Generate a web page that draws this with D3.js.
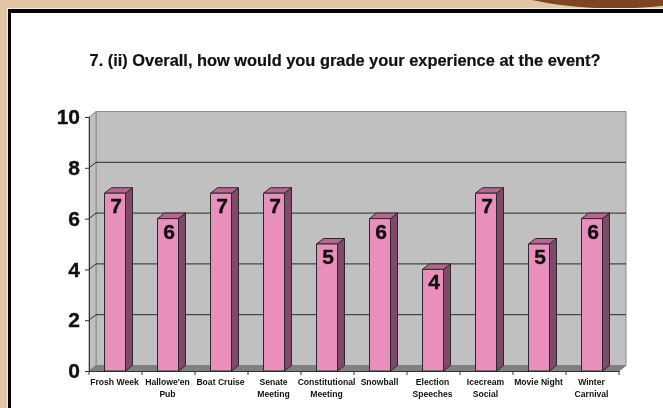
<!DOCTYPE html>
<html>
<head>
<meta charset="utf-8">
<script src="https://cdn.jsdelivr.net/npm/d3@7"></script>
<style>
  html, body { margin: 0; padding: 0; background: #e3c6a8; overflow: hidden; }
  svg { display: block; font-family: "Liberation Sans", Arial, sans-serif; filter: blur(0.35px); }
</style>
</head>
<body>
<div id="svg-container"></div>
<script>
const categories = ["Frosh Week", "Hallowe'en Pub", "Boat Cruise", "Senate Meeting", "Constitutional Meeting", "Snowball", "Election Speeches", "Icecream Social", "Movie Night", "Winter Carnival"];
const values = [7, 6, 7, 7, 5, 6, 4, 7, 5, 6];
const yTicks = [0, 2, 4, 6, 8, 10];
const titleText = "7. (ii) Overall, how would you grade your experience at the event?";

const width = 663;
const height = 408;
const depthX = 7;
const depthY = 5.5;

const svg = d3.select("#svg-container").append("svg").attr("width", width).attr("height", height);

// slide background
svg.append("rect").attr("width", width).attr("height", height).attr("fill", "#e3c6a8");
svg.append("ellipse").attr("cx", 615).attr("cy", -40).attr("rx", 147).attr("ry", 48.5).attr("fill", "#7f4423");
svg.append("rect").attr("x", 7).attr("y", 8).attr("width", width).attr("height", height).attr("fill", "#f6eadc");
svg.append("rect").attr("x", 8).attr("y", 9).attr("width", width).attr("height", height).attr("fill", "#000");
svg.append("rect").attr("x", 11).attr("y", 13).attr("width", width).attr("height", height).attr("fill", "#fff");

svg.append("text")
  .attr("x", 345)
  .attr("y", 66)
  .attr("text-anchor", "middle")
  .attr("font-size", 16.4)
  .attr("font-weight", "bold")
  .attr("fill", "#111")
  .attr("stroke", "#111")
  .attr("stroke-width", 0.2)
  .text(titleText);

const xScale = d3.scaleBand().domain(categories).range([89, 619]);
const yScale = d3.scaleLinear().domain([0, 10]).range([371, 117]);

const x0 = xScale.range()[0];
const x1 = xScale.range()[1];
const y0 = yScale(0);
const yTop = yScale(10);

// walls and floor
const poly = (pts, fill, stroke) =>
  svg.append("polygon")
    .attr("points", pts.map((p) => p.join(",")).join(" "))
    .attr("fill", fill)
    .attr("stroke", stroke)
    .attr("stroke-width", 1);

poly([[x0 + depthX, yTop - depthY], [x1 + depthX, yTop - depthY], [x1 + depthX, y0 - depthY], [x0 + depthX, y0 - depthY]], "#c0c0c0", "#8c8c8c");
poly([[x0, yTop], [x0 + depthX, yTop - depthY], [x0 + depthX, y0 - depthY], [x0, y0]], "#c0c0c0", "#8c8c8c");
poly([[x0, y0], [x0 + depthX, y0 - depthY], [x1 + depthX, y0 - depthY], [x1, y0]], "#808080", "#808080");

// gridlines along the back and side walls
yTicks.filter((d) => d > 0 && d < 10).forEach((d) => {
  svg.append("path")
    .attr("fill", "none")
    .attr("stroke", "#2a2a2a")
    .attr("stroke-width", 1)
    .attr("d", `M${x0},${yScale(d)}L${x0 + depthX},${yScale(d) - depthY}H${x1 + depthX}`);
});

// axes
const yAxis = d3.axisLeft(yScale).tickValues(yTicks).tickSize(4).tickPadding(5);
const xAxis = d3.axisBottom(xScale).tickSize(0).tickFormat("");

const yG = svg.append("g").attr("transform", `translate(${x0},0)`).call(yAxis);
yG.select(".domain").attr("stroke", "#333");
yG.selectAll(".tick line").attr("stroke", "#333");
yG.selectAll("text")
  .attr("font-family", "\"Liberation Sans\", Arial, sans-serif")
  .attr("font-size", 21)
  .attr("font-weight", "bold")
  .attr("fill", "#111")
  .attr("stroke", "#111")
  .attr("stroke-width", 0.35);

const xG = svg.append("g").attr("transform", `translate(0,${y0})`).call(xAxis);
xG.select(".domain").attr("stroke", "#333");

// category boundary ticks
svg.append("g")
  .selectAll("line")
  .data(categories.concat(["end"]))
  .join("line")
  .attr("x1", (d, i) => x0 + i * xScale.step())
  .attr("x2", (d, i) => x0 + i * xScale.step())
  .attr("y1", y0)
  .attr("y2", y0 + 4)
  .attr("stroke", "#333");

// category labels, wrapped on the first space unless the name fits
const singleLine = new Set(["Frosh Week", "Boat Cruise", "Movie Night"]);
const labelG = svg.append("g")
  .selectAll("text")
  .data(categories)
  .join("text")
  .attr("text-anchor", "middle")
  .attr("font-size", 8.6)
  .attr("font-weight", "bold")
  .attr("fill", "#111")
  .attr("transform", (d) => `translate(${xScale(d) + xScale.bandwidth() / 2 - 1},385)`);

labelG.each(function (d) {
  const lines = singleLine.has(d) ? [d] : d.split(" ");
  d3.select(this)
    .selectAll("tspan")
    .data(lines)
    .join("tspan")
    .attr("x", 0)
    .attr("y", (l, i) => i * 12)
    .text((l) => l);
});

// 3d bars
const barW = 21;
const barX = (d) => xScale(d) + (xScale.bandwidth() - barW) / 2 - 0.5;

const bars = svg.append("g")
  .selectAll("g")
  .data(categories.map((c, i) => ({ c: c, v: values[i] })))
  .join("g")
  .attr("stroke", "#2a2a2a")
  .attr("stroke-width", 1)
  .attr("stroke-linejoin", "round");

bars.append("path")
  .attr("fill", "#7f4a69")
  .attr("d", (d) => {
    const l = barX(d.c) + barW;
    return `M${l},${y0}V${yScale(d.v)}l${depthX},${-depthY}V${y0 - depthY}Z`;
  });

bars.append("path")
  .attr("fill", "#b3688f")
  .attr("d", (d) => {
    const l = barX(d.c);
    return `M${l},${yScale(d.v)}l${depthX},${-depthY}h${barW}l${-depthX},${depthY}Z`;
  });

bars.append("rect")
  .attr("x", (d) => barX(d.c))
  .attr("y", (d) => yScale(d.v))
  .attr("width", barW)
  .attr("height", (d) => y0 - yScale(d.v))
  .attr("fill", "#e88fbb");

bars.append("text")
  .attr("x", (d) => barX(d.c) + barW / 2 + 1)
  .attr("y", (d) => yScale(d.v) + 20)
  .attr("text-anchor", "middle")
  .attr("stroke", "#111")
  .attr("stroke-width", 0.35)
  .attr("font-size", 21)
  .attr("font-weight", "bold")
  .attr("fill", "#111")
  .text((d) => d.v);
</script>
</body>
</html>
